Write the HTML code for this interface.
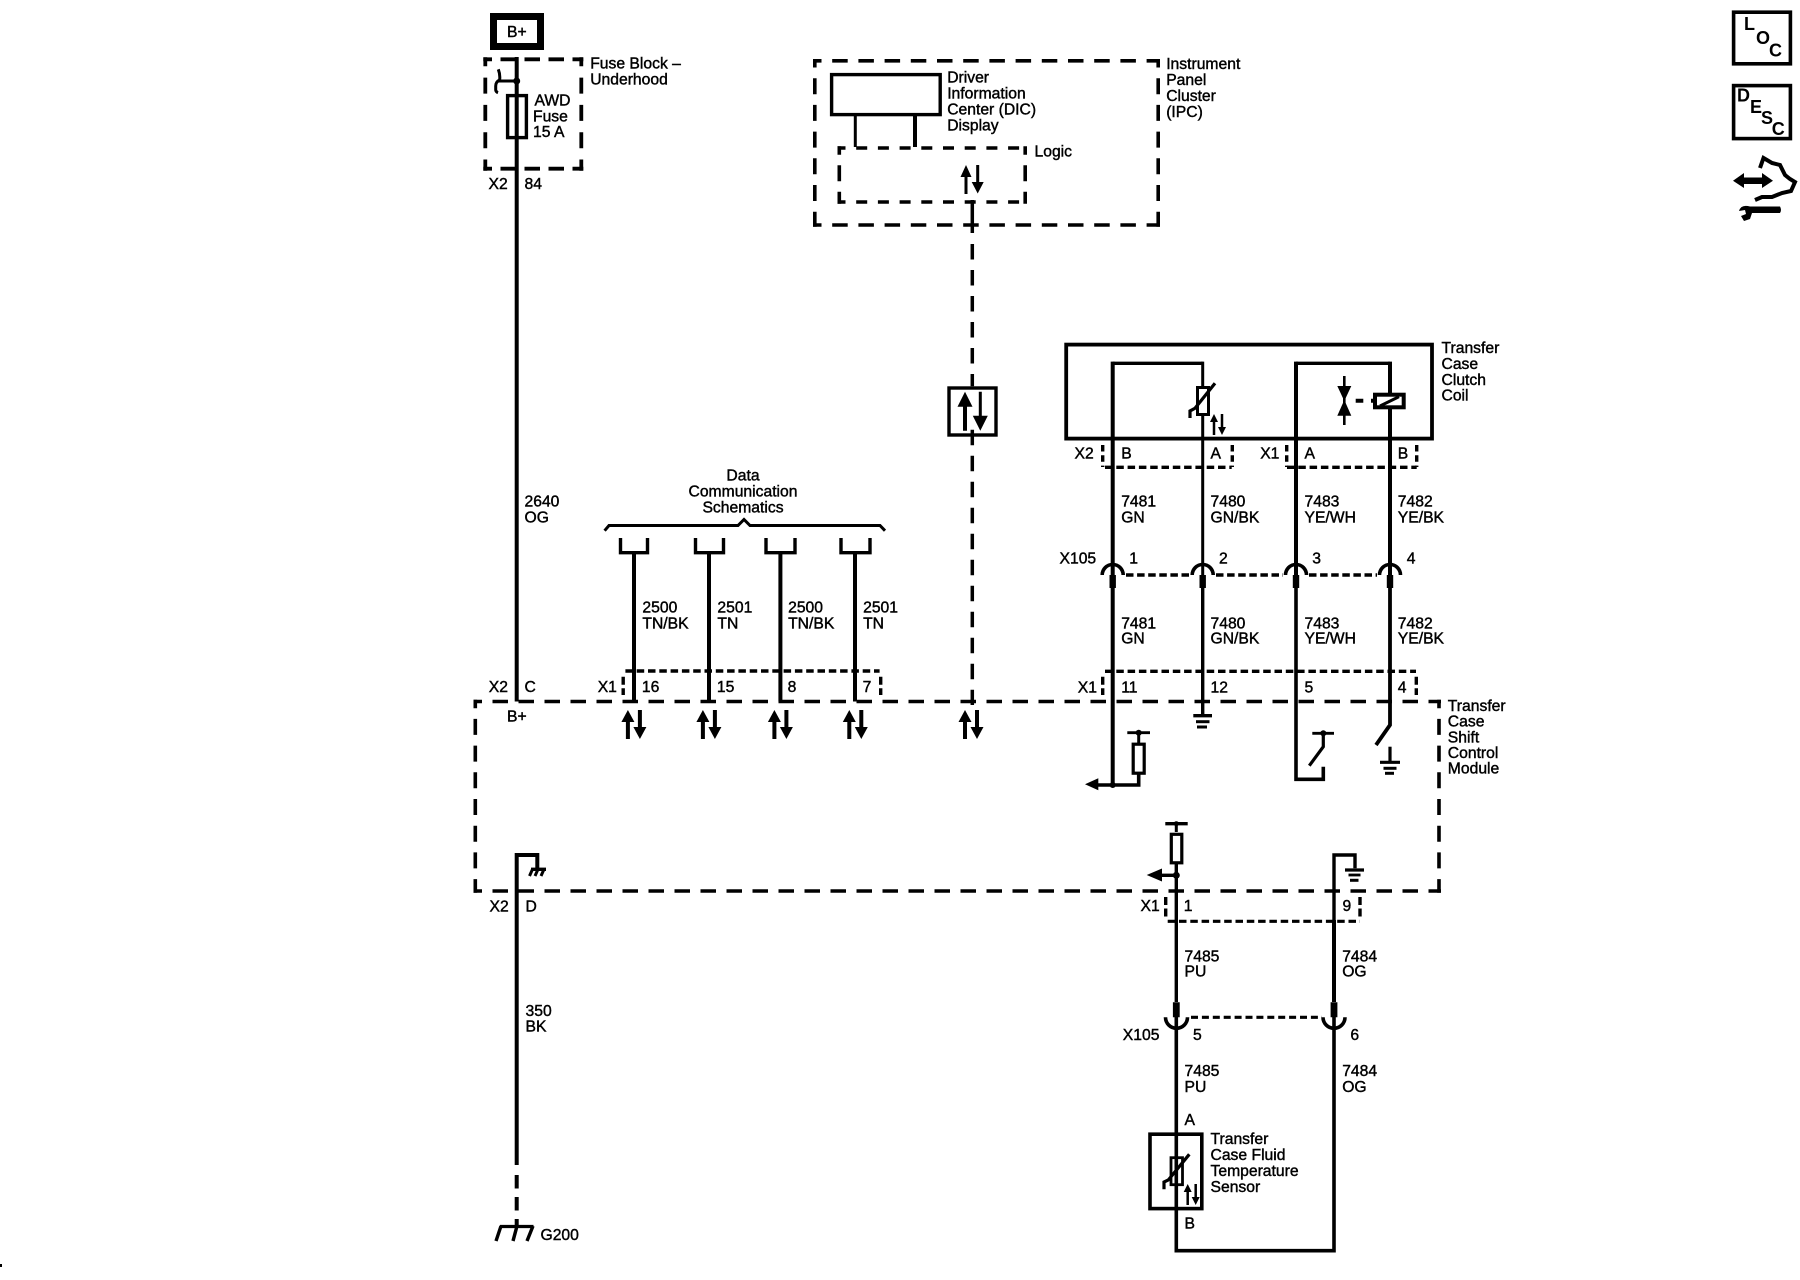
<!DOCTYPE html>
<html><head><meta charset="utf-8"><style>
html,body{margin:0;padding:0;background:#fff}
svg{display:block}
text{font-family:"Liberation Sans",sans-serif;font-size:15.7px;fill:#000;stroke:#000;stroke-width:.42px}
.b{font-weight:bold;font-size:18px;stroke:none}
</style></head><body>
<svg xmlns="http://www.w3.org/2000/svg" width="1800" height="1280" viewBox="0 0 1800 1280">
<defs>
<g id="ud"><path d="M0,0L6.5,12H2V29H-2V12H-6.5Z"/><path d="M10,0H14V17H18.5L12,29L5.5,17H10Z"/></g>
<g id="ud2"><path d="M0,0L4,8H1.25V21H-1.25V8H-4Z"/><path d="M6.75,0H9.25V13H12L8,21L4,13H6.75Z"/></g>
</defs>
<rect width="1800" height="1280" fill="#fff"/>
<rect x="0" y="1264" width="2" height="3"/>

<g fill="none" stroke="#000">
<!-- B+ -->
<rect x="493.5" y="16.5" width="47" height="30" stroke-width="7"/>
<!-- fuse block dashed -->
<g stroke-width="3.8">
<path d="M483.3,59.3H583.3M483.3,168.7H583.3" stroke-dasharray="15.5 8.5" stroke-dashoffset="6.8"/>
<path d="M485.3,57.3V170.7M581.3,57.3V170.7" stroke-dasharray="16 11.3" stroke-dashoffset="7"/>
</g>
<!-- main wire -->
<path d="M516.7,57V701.5" stroke-width="4"/>
<rect x="507.6" y="95.6" width="18.8" height="42" stroke-width="3.4"/>
<path d="M516.7,81H499.5Q500.5,75 498.3,69.3M499.5,80Q495.7,82 495.7,86V90Q496,92 498,92.7" stroke-width="3"/>

<!-- IPC -->
<g stroke-width="3.6">
<path d="M813,60.8H1160M813,225H1160" stroke-dasharray="15.5 10.7" stroke-dashoffset="7"/>
<path d="M814.8,59V226.8M1158.2,59V226.8" stroke-dasharray="16 10.7" stroke-dashoffset="7.5"/>
</g>
<rect x="831.6" y="74.6" width="108.6" height="40" stroke-width="3.4"/>
<path d="M855.3,115V147" stroke-width="3"/>
<path d="M915,115V147" stroke-width="4"/>
<g stroke-width="3.6">
<path d="M837.5,148H1027M837.5,202H1027" stroke-dasharray="11 10.7" stroke-dashoffset="3"/>
<path d="M839.3,146.2V203.8M1025.2,146.2V203.8" stroke-dasharray="16 10.5" stroke-dashoffset="7.5"/>
</g>
<path d="M972.3,200V233" stroke-width="3.5"/>
<path d="M972.3,244V386.3" stroke-width="3.5" stroke-dasharray="15.5 10.5"/>
<path d="M972.3,429.7V705" stroke-width="3.5" stroke-dasharray="15.5 10.5"/>
<rect x="949" y="388" width="47" height="47" stroke-width="3.4"/>

<!-- Clutch coil box -->
<rect x="1066.2" y="344.6" width="365.8" height="94" stroke-width="3.8"/>
<path d="M1112.7,363.3H1202.7" stroke-width="3.4"/>
<path d="M1296,363.3H1390" stroke-width="3.4"/>
<path d="M1112.7,361.6V575M1296,361.6V575M1390,361.6V575" stroke-width="4"/>
<path d="M1202.7,361.6V575" stroke-width="3"/>
<rect x="1197.5" y="387.5" width="11" height="27" fill="#fff" stroke-width="3"/>
<path d="M1215,383.3L1195,408.3L1190,411V418" stroke-width="3.2"/>
<path d="M1344.3,376V425" stroke-width="2.6"/>
<path d="M1355.7,400.7H1363.3M1371,400.7H1374" stroke-width="4"/>
<rect x="1375" y="394.7" width="28.7" height="12.6" fill="#fff" stroke-width="4"/>
<path d="M1380,406L1399,396.7" stroke-width="3"/>

<!-- connector dashes upper coil -->
<g stroke-width="3.4">
<path d="M1105,467.3H1231.7M1287,467.3H1416.7" stroke-dasharray="7.5 3.8"/>
<path d="M1102.7,445V467M1232.3,445V467M1286.7,445V467M1416.7,445V467" stroke-dasharray="6.5 3.8"/>
</g>

<!-- X105 top -->
<g stroke-width="3.6">
<path d="M1102.2,575A10.5,10.5 0 0 1 1123.2,575"/>
<path d="M1192.2,575A10.5,10.5 0 0 1 1213.2,575"/>
<path d="M1285.5,575A10.5,10.5 0 0 1 1306.5,575"/>
<path d="M1379.5,575A10.5,10.5 0 0 1 1400.5,575"/>
</g>
<path d="M1126,575H1190M1216,575H1283M1309,575H1377" stroke-width="3.4" stroke-dasharray="7.5 3.6"/>
<path d="M1112.7,575V588M1202.7,575V588M1296,575V588M1390,575V588" stroke-width="6.4"/>

<!-- wires lower -->
<path d="M1112.7,588V785" stroke-width="4"/>
<path d="M1202.7,588V715" stroke-width="3.4"/>
<path d="M1296,588V779.3H1323.3V766.7" stroke-width="3.6"/>
<path d="M1390,588V725L1376,745" stroke-width="3.8"/>

<!-- connector X1 11..4 -->
<path d="M1105,671.3H1416" stroke-width="3.4" stroke-dasharray="7.5 3.8"/>
<path d="M1102.7,676.7V695M1416.3,676.7V695" stroke-width="3.4" stroke-dasharray="8 3.5"/>

<!-- module dashed -->
<g stroke-width="3.6">
<path d="M473.5,701.5H1441M473.5,891H1441" stroke-dasharray="15.5 10.5" stroke-dashoffset="7"/>
<path d="M475.3,699.7V892.8M1439,699.7V892.8" stroke-dasharray="16 10.7" stroke-dashoffset="7.5"/>
</g>

<!-- data comm -->
<path d="M604.6,530.7L609,525.5H738L744,519.5L750,525.5H880L885,530.7" stroke-width="3"/>
<path d="M620.5,538V552.7H647.5V538M695.5,538V552.7H723.5V538M766,538V552.7H795V538M841,538V552.7H870V538" stroke-width="3.4"/>
<path d="M634,552V701.5M709,552V701.5M780.4,552V701.5M855,552V701.5" stroke-width="4"/>
<path d="M625.4,671H879.6" stroke-width="3.4" stroke-dasharray="7.5 3.8"/>
<path d="M623.2,676.7V695M880.7,676.7V695" stroke-width="3.4" stroke-dasharray="8 3.5"/>

<!-- grounds & resistors -->
<path d="M1193.3,715.7H1212" stroke-width="3.4"/><path d="M1196,721.7H1209.5" stroke-width="3"/><path d="M1197,727H1207" stroke-width="3"/>
<path d="M1098,785H1138.7V774" stroke-width="3.6"/>
<rect x="1133.2" y="744.2" width="11" height="29" stroke-width="3.2"/>
<path d="M1138.7,732.7V743" stroke-width="3"/>
<path d="M1127.3,732.7H1150" stroke-width="2.8"/>
<path d="M1312.3,733.3H1334" stroke-width="2.8"/>
<path d="M1323.3,733.3V746.7L1309.3,765.7" stroke-width="3.2"/>
<path d="M1390,746.7V761.7" stroke-width="3.2"/>
<path d="M1380,762.3H1400" stroke-width="3.2"/><path d="M1383.5,768.3H1396.5" stroke-width="3"/><path d="M1385,773.3H1394" stroke-width="3"/>

<!-- lower -->
<path d="M1176.3,823.7V832" stroke-width="3"/>
<path d="M1165.3,823.7H1187.7" stroke-width="3.4"/>
<rect x="1171.3" y="834.3" width="10.5" height="28.5" stroke-width="3.2"/>
<path d="M1162,875.3H1176.3" stroke-width="3.4"/>
<path d="M1176.3,864V1002" stroke-width="3.4"/>
<path d="M1176.3,1017V1250.7H1334V1017" stroke-width="3.6"/>
<path d="M1334,1002V855H1355V868.3" stroke-width="3.4"/>
<path d="M1334,920V1002" stroke-width="4"/>
<path d="M1176.3,1002.3V1017.3M1334,1002.3V1017.3" stroke-width="6.8"/>
<path d="M1165.5,1017.3A11,11 0 0 0 1187.5,1017.3M1323,1017.3A11,11 0 0 0 1345,1017.3" stroke-width="3.6"/>
<path d="M1191,1017.3H1322" stroke-width="3.2" stroke-dasharray="7 3.9"/>
<path d="M1345,870H1364" stroke-width="3.2"/><path d="M1348.5,875H1360.5" stroke-width="2.8"/><path d="M1350,880.3H1358.5" stroke-width="3"/>
<path d="M1167.7,921.3H1360" stroke-width="3.2" stroke-dasharray="7.5 3.8"/>
<path d="M1165.7,897V917M1360,897V917" stroke-width="3.4" stroke-dasharray="8 3.5"/>
<!-- sensor -->
<rect x="1150" y="1134.2" width="51.8" height="74.4" stroke-width="3.6"/>
<rect x="1171" y="1157.7" width="11.5" height="27" stroke-width="2.8"/>
<path d="M1189.3,1154.3L1168.3,1180L1164,1182V1189.3" stroke-width="3.2"/>

<!-- G200 wire -->
<path d="M537.3,868V855H516.7V1165" stroke-width="4"/>
<path d="M516.7,1175V1225" stroke-width="4" stroke-dasharray="13.5 8.5"/>
<path d="M531,869.3H546" stroke-width="3.4"/>
<path d="M532.5,869.3L529.5,876M538,869.3L535,876M544,869.3L541,876" stroke-width="3"/>
<path d="M500,1226.5H533.5" stroke-width="3.2"/>
<path d="M501,1226L496,1241M517,1226L513,1241M533,1226L527,1241" stroke-width="3.4"/>
</g>

<!-- solid parts -->
<circle cx="516.7" cy="81" r="3.5"/>
<path d="M1337.3,386H1351.3L1344.3,401Z"/>
<path d="M1337.3,415.7H1351.3L1344.3,400Z"/>
<path d="M1085,784.3L1098.3,778.3V790.3Z"/>
<circle cx="1112.7" cy="785" r="3"/>
<circle cx="1138.7" cy="732.7" r="3"/>
<circle cx="1323.3" cy="733.3" r="3"/>
<circle cx="1176.3" cy="823.7" r="2.5"/>
<path d="M1146.7,875L1162,868.5V881.5Z"/>
<circle cx="1176.3" cy="875.3" r="3.5"/>

<!-- IPC arrows -->
<path d="M966,165L971.5,177H967.5V194H964.5V177H960.5Z"/>
<path d="M976.2,165H979.2V182H983.7L977.7,193.5L971.7,182H976.2Z"/>
<!-- big box arrows -->
<path d="M965,391.7L972.5,406.7H967V430.7H963V406.7H957.5Z"/>
<path d="M978.8,391.7H981.8V415.7H987.8L980.3,430.7L972.8,415.7H978.8Z"/>
<use href="#ud" x="627.9" y="710"/>
<use href="#ud" x="702.9" y="710"/>
<use href="#ud" x="774.4" y="710"/>
<use href="#ud" x="849.3" y="710"/>
<use href="#ud" x="965" y="710"/>
<use href="#ud2" x="1214" y="414"/>
<use href="#ud2" x="1187.7" y="1184"/>

<!-- labels -->
<text x="507" y="37">B+</text>
<text x="590.2" y="68.3">Fuse Block –</text><text x="590.2" y="84.3">Underhood</text>
<text x="534.5" y="105.6">AWD</text><text x="533" y="121.3">Fuse</text><text x="533" y="137">15 A</text>
<text x="488.5" y="189">X2</text><text x="524.5" y="189">84</text>
<text x="947.2" y="82.7">Driver</text><text x="947.2" y="98.7">Information</text><text x="947.2" y="114.7">Center (DIC)</text><text x="947.2" y="130.7">Display</text>
<text x="1166.2" y="69">Instrument</text><text x="1166.2" y="85">Panel</text><text x="1166.2" y="101">Cluster</text><text x="1166.2" y="117">(IPC)</text>
<text x="1034.5" y="156.7">Logic</text>
<text x="1441.5" y="353">Transfer</text><text x="1441.5" y="369">Case</text><text x="1441.5" y="385">Clutch</text><text x="1441.5" y="400.5">Coil</text>
<text x="1074.5" y="458.3">X2</text><text x="1121.2" y="458.3">B</text><text x="1210.5" y="458.3">A</text><text x="1260.2" y="458.3">X1</text><text x="1304.5" y="458.3">A</text><text x="1397.8" y="458.3">B</text>
<text x="1121.2" y="506.7">7481</text><text x="1121.2" y="522.3">GN</text>
<text x="1210.5" y="506.7">7480</text><text x="1210.5" y="522.3">GN/BK</text>
<text x="1304.5" y="506.7">7483</text><text x="1304.5" y="522.3">YE/WH</text>
<text x="1397.8" y="506.7">7482</text><text x="1397.8" y="522.3">YE/BK</text>
<text x="1059.5" y="563.3">X105</text><text x="1129.3" y="563.3">1</text><text x="1219" y="563.3">2</text><text x="1312.3" y="563.3">3</text><text x="1406.7" y="563.3">4</text>
<text x="1121.2" y="628.3">7481</text><text x="1121.2" y="643.7">GN</text>
<text x="1210.5" y="628.3">7480</text><text x="1210.5" y="643.7">GN/BK</text>
<text x="1304.5" y="628.3">7483</text><text x="1304.5" y="643.7">YE/WH</text>
<text x="1397.8" y="628.3">7482</text><text x="1397.8" y="643.7">YE/BK</text>
<text x="1077.8" y="692.3">X1</text><text x="1121.2" y="692.3">11</text><text x="1210.5" y="692.3">12</text><text x="1304.5" y="692.3">5</text><text x="1397.8" y="692.3">4</text>
<text x="1447.8" y="711">Transfer</text><text x="1447.8" y="726.7">Case</text><text x="1447.8" y="742.3">Shift</text><text x="1447.8" y="758">Control</text><text x="1447.8" y="773.7">Module</text>
<text x="743" y="480.7" text-anchor="middle">Data</text><text x="743" y="496.7" text-anchor="middle">Communication</text><text x="743" y="512.3" text-anchor="middle">Schematics</text>
<text x="524.5" y="506.7">2640</text><text x="524.5" y="522.3">OG</text>
<text x="642.4" y="612.7">2500</text><text x="642.4" y="628.7">TN/BK</text>
<text x="717.4" y="612.7">2501</text><text x="717.4" y="628.7">TN</text>
<text x="788.1" y="612.7">2500</text><text x="788.1" y="628.7">TN/BK</text>
<text x="863.1" y="612.7">2501</text><text x="863.1" y="628.7">TN</text>
<text x="488.8" y="692">X2</text><text x="524.5" y="692">C</text><text x="597.7" y="692">X1</text><text x="641.9" y="692">16</text><text x="716.9" y="692">15</text><text x="787.6" y="692">8</text><text x="862.6" y="692">7</text>
<text x="507" y="721.7">B+</text>
<text x="489.5" y="911.3">X2</text><text x="525.5" y="911.3">D</text>
<text x="525.5" y="1016">350</text><text x="525.5" y="1031.3">BK</text>
<text x="540.5" y="1240">G200</text>
<text x="1140.5" y="911">X1</text><text x="1183.8" y="911">1</text><text x="1342.5" y="911">9</text>
<text x="1184.5" y="961.7">7485</text><text x="1184.5" y="976.7">PU</text>
<text x="1342.2" y="961.7">7484</text><text x="1342.2" y="976.7">OG</text>
<text x="1122.8" y="1040">X105</text><text x="1193" y="1040">5</text><text x="1350.4" y="1040">6</text>
<text x="1184.5" y="1076">7485</text><text x="1184.5" y="1092">PU</text>
<text x="1342.2" y="1076">7484</text><text x="1342.2" y="1092">OG</text>
<text x="1184.5" y="1125">A</text><text x="1184.5" y="1228.3">B</text>
<text x="1210.5" y="1144">Transfer</text><text x="1210.5" y="1160">Case Fluid</text><text x="1210.5" y="1176">Temperature</text><text x="1210.5" y="1192">Sensor</text>

<!-- icons -->
<rect x="1733.6" y="12.2" width="56.8" height="51.6" fill="none" stroke="#000" stroke-width="3.6"/>
<text class="b" x="1744" y="30">L</text><text class="b" x="1756" y="44">O</text><text class="b" x="1769" y="56.7">C</text>
<rect x="1733.6" y="85.6" width="56.8" height="53" fill="none" stroke="#000" stroke-width="3.6"/>
<text class="b" x="1737" y="101.7">D</text><text class="b" x="1750" y="113">E</text><text class="b" x="1761" y="124">S</text><text class="b" x="1771.7" y="135">C</text>
<path d="M1733,180.7L1744,173V177.5H1762V173L1773,180.7L1762,188V184H1744V188Z"/>
<path d="M1760,168L1763.5,158L1772,163L1780,165L1785,175L1790,179L1795,182L1791,191L1782,193L1772,197L1762,197L1755,200" fill="none" stroke="#000" stroke-width="4"/>
<path d="M1750,206.5H1780Q1782,210 1780,213H1752L1750,219L1744,221L1741,216L1746,214L1745,210L1739,211Q1741,204 1750,206.5Z"/>
</svg>
</body></html>
